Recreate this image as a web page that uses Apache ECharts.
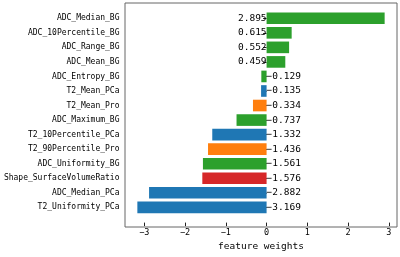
<!DOCTYPE html>
<html>
<head>
<meta charset="utf-8">
<script src="https://cdn.jsdelivr.net/npm/echarts@6/dist/echarts.min.js"></script>
<style>html,body{margin:0;padding:0;background:#fff}#c{width:400px;height:257px}</style>
</head>
<body>
<div id="c"></div>
<script>
const categories = ['ADC_Median_BG','ADC_10Percentile_BG','ADC_Range_BG','ADC_Mean_BG','ADC_Entropy_BG','T2_Mean_PCa','T2_Mean_Pro','ADC_Maximum_BG','T2_10Percentile_PCa','T2_90Percentile_Pro','ADC_Uniformity_BG','Shape_SurfaceVolumeRatio','ADC_Median_PCa','T2_Uniformity_PCa'];
const weights = [2.895, 0.615, 0.552, 0.459, -0.129, -0.135, -0.334, -0.737, -1.332, -1.436, -1.561, -1.576, -2.882, -3.169];
const groups = ['BG','BG','BG','BG','BG','PCa','Pro','BG','PCa','Pro','BG','Shape','PCa','PCa'];
const groupColors = {BG:'#2ca02c', PCa:'#1f77b4', Pro:'#ff7f0e', Shape:'#d62728'};
const xTicks = [-3,-2,-1,0,1,2,3];
const xMin = -3.472, xMax = 3.198;

const FONT = 'DejaVu Sans Mono';
const fmt = v => v.toFixed(3).replace('-', '\u2212');

const chart = echarts.init(document.getElementById('c'), null, {renderer:'canvas'});
chart.setOption({
  animation:false,
  grid:[
    {left:125, top:3, right:3, bottom:30, show:true, borderColor:'#666', borderWidth:1, backgroundColor:'transparent'},
    {left:125, top:11, right:3, bottom:38, show:false}
  ],
  xAxis:[
    {gridIndex:0, type:'value', show:false, min:0, max:1},
    {gridIndex:1, type:'value', min:xMin, max:xMax, position:'bottom', offset:8,
     axisLine:{show:false}, splitLine:{show:false},
     axisTick:{show:true, length:3.5, lineStyle:{color:'#222'}, customValues:xTicks},
     axisLabel:{customValues:xTicks, margin:5.5, fontFamily:FONT, fontSize:8.5, color:'#000',
       formatter:v => String(v).replace('-', '\u2212')},
     name:'feature weights', nameLocation:'middle', nameGap:18,
     nameTextStyle:{fontFamily:FONT, fontSize:9.5, color:'#000'}}
  ],
  yAxis:[
    {gridIndex:0, type:'value', show:false, min:0, max:1},
    {gridIndex:1, type:'category', data:categories, inverse:true,
     axisLine:{show:false},
     axisTick:{show:true, alignWithLabel:true, length:3.5, lineStyle:{color:'#222'}},
     axisLabel:{margin:5.5, fontFamily:FONT, fontSize:8, color:'#000'}}
  ],
  series:[{
    type:'bar', xAxisIndex:1, yAxisIndex:1, barWidth:'80%',
    data: weights.map((v,i) => ({
      value:v,
      itemStyle:{color:groupColors[groups[i]]},
      label:{show:true, position: v >= 0 ? 'left' : 'right', distance:0,
        formatter: () => fmt(v), fontFamily:FONT, fontSize:9.5, color:'#000'}
    }))
  }]
});
</script>
</body>
</html>
